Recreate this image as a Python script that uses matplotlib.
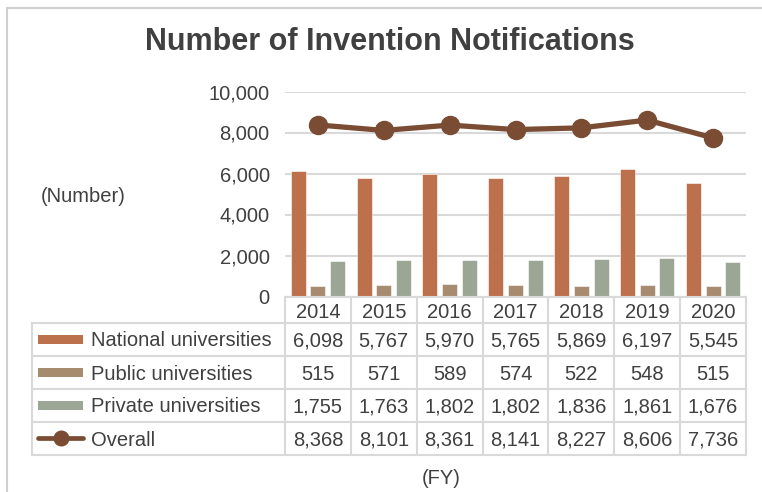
import matplotlib
matplotlib.use("Agg")
import matplotlib.pyplot as plt
from matplotlib.lines import Line2D
from matplotlib.patches import Rectangle
import matplotlib.transforms as mtransforms
import numpy as np

plt.rcParams['font.family'] = ['Liberation Sans', 'DejaVu Sans']

years = ["2014", "2015", "2016", "2017", "2018", "2019", "2020"]
national = [6098, 5767, 5970, 5765, 5869, 6197, 5545]
public = [515, 571, 589, 574, 522, 548, 515]
private = [1755, 1763, 1802, 1802, 1836, 1861, 1676]
overall = [8368, 8101, 8361, 8141, 8227, 8606, 7736]
series_names = ["National universities", "Public universities",
                "Private universities", "Overall"]
yticks = [0, 2000, 4000, 6000, 8000, 10000]

c_nat = "#BC704C"
c_pub = "#A68B6E"
c_pri = "#9CA695"
c_all = "#7A4C33"
txt = "#404040"
grid_c = "#D9D9D9"

W, H = 762, 492
fig = plt.figure(figsize=(W / 100, H / 100), dpi=100)

def fx(px):
    return px / W

def fy(py):
    return 1 - py / H

ax_l, ax_r, ax_t, ax_b = 285, 746, 91.5, 296.5
ax = fig.add_axes([fx(ax_l), fy(ax_b), fx(ax_r - ax_l), (ax_b - ax_t) / H])

n = len(years)
x = np.arange(n)
bw = 0.228
off = 0.30
ax.bar(x - off, national, bw, color=c_nat, edgecolor="white", linewidth=0.4, zorder=3)
ax.bar(x, public, bw, color=c_pub, edgecolor="white", linewidth=0.4, zorder=3)
ax.bar(x + off, private, bw, color=c_pri, edgecolor="white", linewidth=0.4, zorder=3)
ax.plot(x, overall, color=c_all, lw=3.8, marker="o", markersize=13, zorder=4)

ax.set_xlim(-0.5, n - 0.5)
ax.set_ylim(0, 10000)
ax.set_yticks(yticks)
ax.set_yticklabels([f"{v:,}" for v in yticks], fontsize=14.5, color=txt)
ax.tick_params(axis="y", length=0, pad=11)
ax.set_xticks([])
ax.grid(axis="y", color=grid_c, lw=1.5, zorder=0)
ax.set_axisbelow(True)
for s in ax.spines.values():
    s.set_visible(False)

# ---- data table ----
trans = mtransforms.blended_transform_factory(ax.transData, fig.transFigure)
row_y = [296.5, 322.5, 355.5, 388.5, 421.5, 454.5]
tab_left = 32
lw_t = 1.5
for i, ry in enumerate(row_y):
    x0 = ax_l if i == 0 else tab_left
    fig.add_artist(Line2D([fx(x0), fx(ax_r)], [fy(ry), fy(ry)], color=grid_c, lw=lw_t))
for k in range(n + 1):
    ax.add_line(Line2D([k - 0.5, k - 0.5], [fy(row_y[0]), fy(row_y[-1])],
                       transform=trans, color=grid_c, lw=lw_t, clip_on=False))
fig.add_artist(Line2D([fx(tab_left), fx(tab_left)], [fy(row_y[1]), fy(row_y[-1])],
                      color=grid_c, lw=lw_t))

for i, yr in enumerate(years):
    ax.text(i, fy(318.5), yr, transform=trans, ha="center",
            va="baseline", fontsize=14.5, color=txt, clip_on=False)

rows = [national, public, private, overall]
colors = [c_nat, c_pub, c_pri, c_all]
for r, (vals, name, col) in enumerate(zip(rows, series_names, colors)):
    cy = (row_y[r + 1] + row_y[r + 2]) / 2
    base = cy + 7.5
    for i, v in enumerate(vals):
        ax.text(i, fy(base), f"{v:,}", transform=trans, ha="center", va="baseline",
                fontsize=14.5, color=txt, clip_on=False)
    fig.text(fx(91), fy(base), name, ha="left", va="baseline", fontsize=14.5,
             color=txt)
    if r < 3:
        fig.add_artist(Rectangle((fx(38), fy(cy + 4.5)), fx(45), 9 / H,
                                 facecolor=col, edgecolor="none"))
    else:
        fig.add_artist(Line2D([fx(38), fx(83)], [fy(cy), fy(cy)], color=col, lw=3.4,
                              solid_capstyle="round"))
        fig.add_artist(Line2D([fx(60.5)], [fy(cy)], color=col, marker="o",
                              markersize=10.5, lw=0))

fig.text(fx(390), fy(42), "Number of Invention Notifications", ha="center",
         va="center", fontsize=22, fontweight="bold", color=txt)
fig.text(fx(83), fy(197), "(Number)", ha="center", va="center", fontsize=14.5, color=txt)
fig.text(fx(441), fy(478), "(FY)", ha="center", va="center", fontsize=14.5, color=txt)

# outer border: only top and left edges are inside the picture
fig.add_artist(Line2D([fx(7), 1.0], [fy(8), fy(8)], color="#D0D0D0", lw=1.5))
fig.add_artist(Line2D([fx(7), fx(7)], [fy(8), 0.0], color="#D0D0D0", lw=1.5))

fig.savefig("out.png", dpi=100, facecolor="white")
